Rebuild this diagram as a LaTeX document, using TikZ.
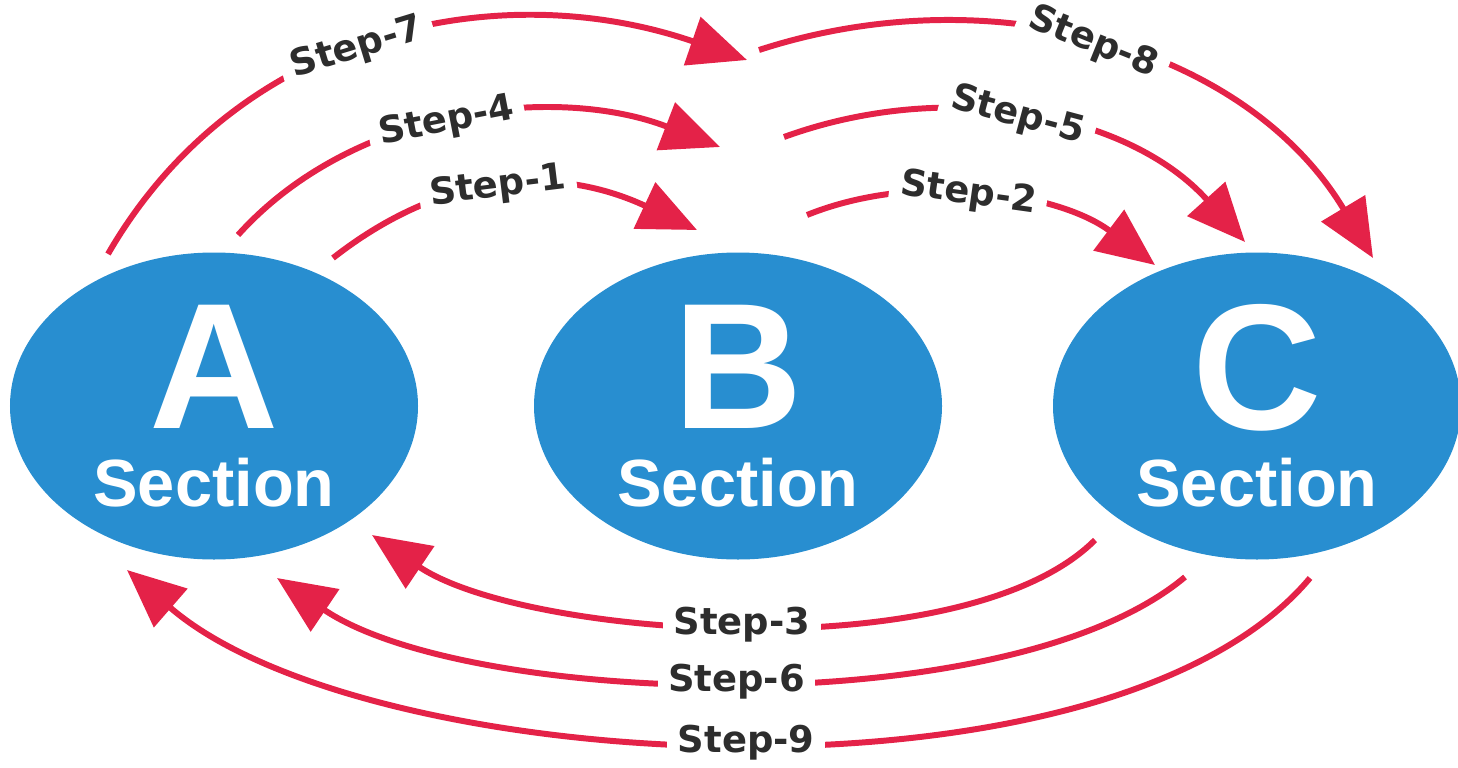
\documentclass[tikz,border=0pt]{standalone}
\usepackage{fontspec}
\newfontfamily\secfont{Liberation Sans}
\newfontfamily\stepfont{DejaVu Sans}
\usetikzlibrary{arrows.meta,shapes.geometric}
\definecolor{secblue}{RGB}{40,142,208}
\definecolor{steprose}{RGB}{228,34,72}
\definecolor{stepgray}{RGB}{45,45,45}

\begin{document}
\begin{tikzpicture}
	\tikzset{
		sect/.style={ellipse,fill=secblue,text=white,inner sep=0pt,minimum width=4.08cm,minimum height=3.07cm,
			align=center,font=\secfont\bfseries\fontsize{19}{22}\selectfont},
		flow/.style={draw=steprose,line width=1.7pt,-{Triangle[length=5.8mm,width=5mm]}},
		steplabel/.style={fill=white,text=stepgray,inner xsep=3pt,inner ysep=1pt,
			font=\stepfont\bfseries\fontsize{10.5}{12}\selectfont}
	}
	\useasboundingbox (0,0) rectangle (14.58,7.67);
	\node[sect] (A) at (2.14,3.61) {{\fontsize{51}{51}\selectfont A}\\Section};
	\node[sect] (B) at (7.38,3.61) {{\fontsize{51}{51}\selectfont B}\\Section};
	\node[sect] (C) at (12.57,3.61) {{\fontsize{51}{51}\selectfont C}\\Section};
	% ends of the arcs
	\coordinate (a1) at (3.33,5.09); \coordinate (b1) at (6.97,5.37);
	\coordinate (a4) at (2.38,5.32); \coordinate (b4) at (7.20,6.20);
	\coordinate (a7) at (1.08,5.13); \coordinate (b7) at (7.47,7.07);
	\coordinate (b2) at (8.07,5.52); \coordinate (c2) at (11.55,5.02);
	\coordinate (b5) at (7.84,6.30); \coordinate (c5) at (12.45,5.25);
	\coordinate (b8) at (7.59,7.17); \coordinate (c8) at (13.73,5.09);
	\coordinate (c3) at (10.95,2.27); \coordinate (a3) at (3.72,2.32);
	\coordinate (c6) at (11.85,1.90); \coordinate (a6) at (2.77,1.89);
	\coordinate (c9) at (13.10,1.89); \coordinate (a9) at (1.27,1.97);
	% upper arcs
	\draw[flow] (a1) to[out=38,in=155,looseness=1.04] node[steplabel,pos=.47,rotate=7] (l1) {Step-1} (b1);
	\draw[flow] (a4) to[out=48,in=159,looseness=.91] node[steplabel,pos=.47,rotate=11] (l4) {Step-4} (b4);
	\draw[flow] (a7) to[out=60,in=161,looseness=1] node[steplabel,pos=.46,rotate=17] (l7) {Step-7} (b7);
	\draw[flow] (b2) to[out=22,in=143,looseness=.87] node[steplabel,pos=.45,rotate=-8] (l2) {Step-2} (c2);
	\draw[flow] (b5) to[out=20,in=132,looseness=.94] node[steplabel,pos=.47,rotate=-15] (l5) {Step-5} (c5);
	\draw[flow] (b8) to[out=18,in=121,looseness=.97] node[steplabel,pos=.48,rotate=-22] (l8) {Step-8} (c8);
	% lower arcs
	\draw[flow] (c3) to[out=225,in=-34,looseness=.65] node[steplabel,pos=.5] (l3) {Step-3} (a3);
	\draw[flow] (c6) to[out=220,in=-34,looseness=.65] node[steplabel,pos=.5] (l6) {Step-6} (a6);
	\draw[flow] (c9) to[out=230,in=-41,looseness=.68] node[steplabel,pos=.49] (l9) {Step-9} (a9);
\end{tikzpicture}
\end{document}
